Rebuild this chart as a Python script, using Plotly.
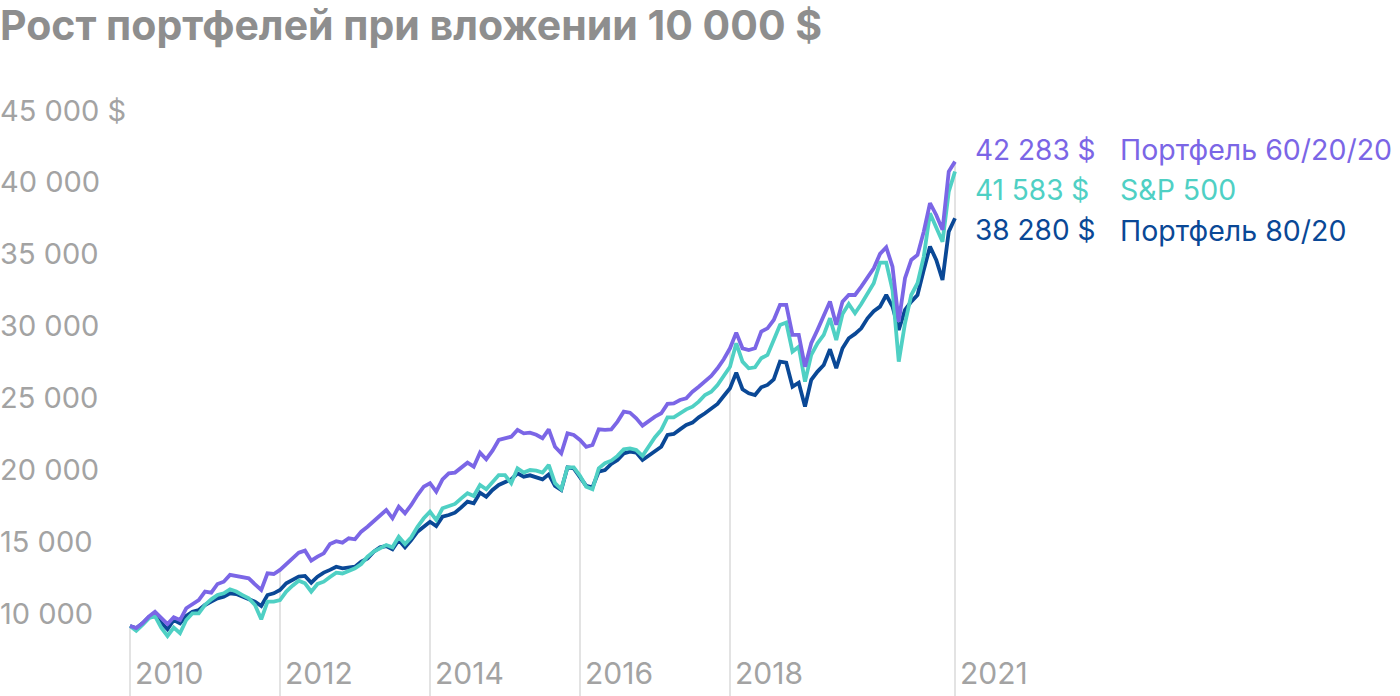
import plotly.graph_objects as go

# Monthly values, Jan 2010 .. Jan 2021
p_60_20_20 = [
    9100, 8950, 9280, 9750, 10090, 9630, 9230, 9700, 9510, 10330, 10630, 10900,
    11490, 11420, 12020, 12180, 12650, 12580, 12530, 12415, 12000, 11600, 12760, 12715,
    13000, 13400, 13800, 14200, 14340, 13640, 13920, 14150, 14800, 15000,
    14900, 15200, 15130, 15660, 16000, 16400, 16820, 17170, 16590, 17400, 16940, 17520,
    18210, 18790, 19030, 18440, 19300, 19720, 19770, 20100, 20460, 20180, 21160, 20700,
    21300, 22040, 22160, 22270, 22740, 22500, 22550,
    22400, 22160, 22780, 21570, 21110, 22500, 22390, 22040, 21570, 21690, 22780, 22740,
    22780, 23320, 24010, 23940, 23550, 23040, 23380, 23660, 23900, 24550, 24590, 24820,
    24940, 25400, 25750, 26100, 26500, 27030, 27660, 28420,
    29510, 28420, 28300, 28420, 29580, 29810, 30390, 31440, 31440, 29350, 29350, 27140,
    28770, 29700, 30620, 31670, 30050, 31670, 32130, 32130, 32710, 33300, 33990, 34990,
    35450, 34100, 30270, 33300, 34570, 34920, 36540, 38520, 37700, 36660, 40720, 41410,
]
sp500 = [
    9100, 8770, 9170, 9630, 9790, 8980, 8400, 8980, 8590, 9510, 9980, 9980,
    10560, 10950, 11250, 11370, 11650, 11490, 11250, 11020, 10560, 9560, 10790, 10790,
    10900, 11490, 11900, 12250, 12070, 11490, 12020, 12180, 12500, 12810,
    12750, 12900, 13110, 13410, 13920, 14270, 14500, 14730, 14570, 15310, 14800, 15270,
    16000, 16590, 17050, 16470, 17290, 17450, 17590, 17980, 18330, 18140, 18910, 18610,
    19070, 19600, 19600, 19030, 20070, 19770, 19950,
    19900, 19770, 20300, 19030, 18610, 20140, 20140, 19540, 18790, 18610, 20070, 20420,
    20600, 20930, 21390, 21460, 21340, 20930, 21620, 22230, 22740, 23620, 23620, 23900,
    24170, 24360, 24710, 25170, 25400, 25870, 26450, 27140,
    28770, 27490, 27030, 27100, 27730, 27960, 29000, 30040, 30210, 28190, 28530, 26100,
    27960, 28770, 29350, 30510, 29000, 30800, 31500, 30860, 31500, 32200, 32950, 34380,
    34380, 32480, 27490, 30160, 32130, 32950, 34800, 37820, 36780, 35840, 39320, 40720,
]
p_80_20 = [
    9100, 8940, 9280, 9700, 9790, 9280, 8870, 9510, 9280, 9790, 10090, 10210,
    10560, 10790, 11020, 11140, 11370, 11320, 11140, 11020, 10790, 10490, 11250, 11370,
    11600, 12070, 12300, 12530, 12580, 12110, 12530, 12810, 13000, 13220,
    13110, 13180, 13220, 13570, 13800, 14270, 14570, 14660, 14430, 15080, 14570, 15080,
    15660, 16000, 16350, 16050, 16700, 16820, 16980, 17350, 17750, 17630, 18370, 18090,
    18560, 18910, 19140, 19300, 19720, 19490, 19580,
    19450, 19300, 19650, 18840, 18560, 20140, 20070, 19490, 18840, 18750, 19840, 19950,
    20370, 20650, 21110, 21230, 21160, 20650, 20930, 21230, 21570, 22390, 22460, 22780,
    23080, 23250, 23620, 23900, 24250, 24550, 25100, 25640,
    26730, 25570, 25290, 25170, 25710, 25870, 26260, 27490, 27420, 25750, 26030, 24360,
    26220, 26800, 27260, 28350, 27030, 28420, 29120, 29420, 29810, 30510, 31000, 31320,
    32130, 31320, 29700, 31090, 31670, 32130, 33870, 35500, 34570, 33180, 36540, 37470,
]

start_year = 2010
year_ticks = [2010, 2012, 2014, 2016, 2018, 2021]
year_labels = ["2010", "2012", "2014", "2016", "2018", "2021"]
y_ticks = [10000, 15000, 20000, 25000, 30000, 35000, 40000, 45000]
y_ticktext = ["10 000", "15 000", "20 000", "25 000", "30 000", "35 000", "40 000", "45 000 $"]

series_names = ["Портфель 60/20/20", "S&P 500", "Портфель 80/20"]
series_final = ["42 283 $", "41 583 $", "38 280 $"]
series_values = [p_60_20_20, sp500, p_80_20]
colors = ["#7b66e6", "#4fd0c4", "#0a4896"]

title_text = "Рост портфелей при вложении 10 000 $"

x = [start_year + i / 12 for i in range(len(p_60_20_20))]

W, H = 1400, 696
X_RANGE = [2008.2667, 2026.9333]
Y_RANGE = [4224, 52658]

fig = go.Figure()

for idx in [2, 1, 0]:
    fig.add_trace(go.Scatter(
        x=x, y=series_values[idx], mode="lines", name=series_names[idx],
        line=dict(color=colors[idx], width=3.8), hoverinfo="skip",
    ))

shapes = []
for yr in year_ticks:
    i = round((yr - start_year) * 12)
    top = max(s[i] for s in series_values)
    shapes.append(dict(type="line", xref="x", yref="y", x0=yr, x1=yr,
                       y0=Y_RANGE[0], y1=top, layer="below",
                       line=dict(color="#e3e3e3", width=2)))

annotations = []
font_family = "Inter, Roboto, sans-serif"
for v, t in zip(y_ticks, y_ticktext):
    annotations.append(dict(xref="paper", yref="y", x=0, y=v, text=t,
                            showarrow=False, xanchor="left", yanchor="middle",
                            xshift=-2,
                            font=dict(size=29, color="#a3a3a3", family=font_family)))
for yr, lab in zip(year_ticks, year_labels):
    annotations.append(dict(xref="x", yref="paper", x=yr, y=1 - 673 / H, text=lab,
                            showarrow=False, xanchor="left", yanchor="middle",
                            xshift=3,
                            font=dict(size=30, color="#a3a3a3", family=font_family)))
label_y = [150, 190, 230]
for k in range(3):
    annotations.append(dict(xref="paper", yref="paper", x=973 / W, y=1 - label_y[k] / H,
                            text=series_final[k], showarrow=False, xanchor="left",
                            yanchor="middle",
                            font=dict(size=28, color=colors[k], family=font_family)))
    annotations.append(dict(xref="paper", yref="paper", x=1118 / W, y=1 - label_y[k] / H,
                            text=series_names[k], showarrow=False, xanchor="left",
                            yanchor="middle",
                            font=dict(size=28.5, color=colors[k], family=font_family)))

fig.update_layout(
    width=W, height=H,
    margin=dict(l=0, r=0, t=0, b=0),
    paper_bgcolor="white", plot_bgcolor="white",
    showlegend=False,
    title=dict(text="<b>" + title_text + "</b>", x=0, xanchor="left", xref="paper",
               y=1 - 26 / H, yanchor="middle", yref="container",
               font=dict(size=41, color="#8e8e8e", family=font_family)),
    xaxis=dict(range=X_RANGE, visible=False, fixedrange=True),
    yaxis=dict(range=Y_RANGE, visible=False, fixedrange=True),
    shapes=shapes,
    annotations=annotations,
)

fig.write_html("out.html", config={"displayModeBar": False})
